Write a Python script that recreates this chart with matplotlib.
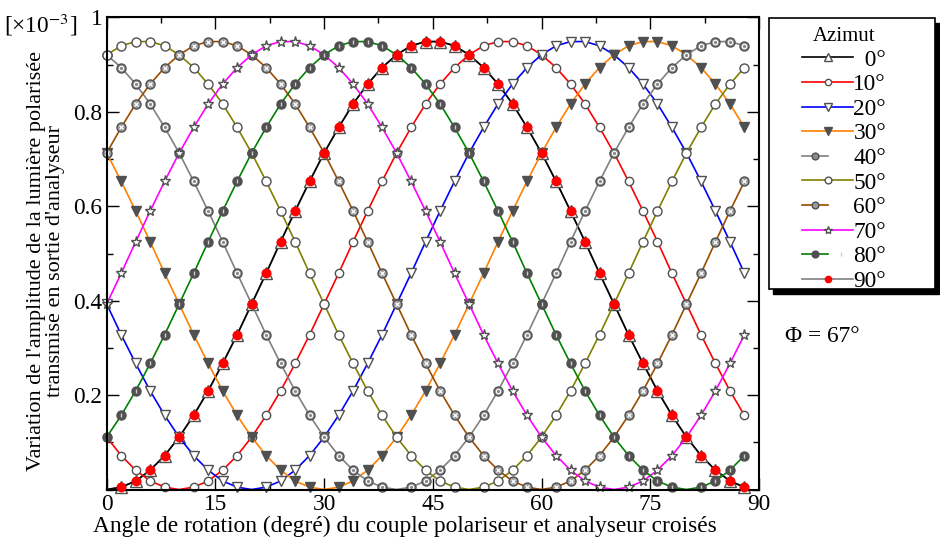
import numpy as np
import matplotlib.pyplot as plt
from matplotlib.patches import Rectangle
from matplotlib.legend_handler import HandlerTuple
from matplotlib.ticker import MultipleLocator, FormatStrFormatter

plt.rcParams['font.family'] = ['Liberation Serif', 'DejaVu Serif']
plt.rcParams['mathtext.fontset'] = 'stix'

# angle de rotation (degré), un point tous les 2°
angles = np.arange(0, 90, 2)

azimut_labels = ['  0°', '10°', '20°', '30°', '40°', '50°', '60°', '70°', '80°', '90°']

# amplitudes [x10^-3]
amp_00 = [0.000, 0.005, 0.018, 0.041, 0.072, 0.111, 0.157, 0.209, 0.267,
          0.328, 0.393, 0.458, 0.525, 0.590, 0.653, 0.713, 0.767, 0.817,
          0.859, 0.894, 0.921, 0.940, 0.949, 0.949, 0.940, 0.921, 0.894,
          0.859, 0.817, 0.767, 0.713, 0.653, 0.590, 0.525, 0.458, 0.393,
          0.328, 0.267, 0.209, 0.157, 0.111, 0.072, 0.041, 0.018, 0.005]
amp_10 = [0.111, 0.072, 0.041, 0.018, 0.005, 0.000, 0.005, 0.018, 0.041,
          0.072, 0.111, 0.157, 0.209, 0.267, 0.328, 0.393, 0.458, 0.525,
          0.590, 0.653, 0.713, 0.767, 0.817, 0.859, 0.894, 0.921, 0.940,
          0.949, 0.949, 0.940, 0.921, 0.894, 0.859, 0.817, 0.767, 0.713,
          0.653, 0.590, 0.525, 0.458, 0.393, 0.328, 0.267, 0.209, 0.157]
amp_20 = [0.393, 0.328, 0.267, 0.209, 0.157, 0.111, 0.072, 0.041, 0.018,
          0.005, 0.000, 0.005, 0.018, 0.041, 0.072, 0.111, 0.157, 0.209,
          0.267, 0.328, 0.393, 0.458, 0.525, 0.590, 0.653, 0.713, 0.767,
          0.817, 0.859, 0.894, 0.921, 0.940, 0.949, 0.949, 0.940, 0.921,
          0.894, 0.859, 0.817, 0.767, 0.713, 0.653, 0.590, 0.525, 0.458]
amp_30 = [0.713, 0.653, 0.590, 0.525, 0.458, 0.393, 0.328, 0.267, 0.209,
          0.157, 0.111, 0.072, 0.041, 0.018, 0.005, 0.000, 0.005, 0.018,
          0.041, 0.072, 0.111, 0.157, 0.209, 0.267, 0.328, 0.393, 0.458,
          0.525, 0.590, 0.653, 0.713, 0.767, 0.817, 0.859, 0.894, 0.921,
          0.940, 0.949, 0.949, 0.940, 0.921, 0.894, 0.859, 0.817, 0.767]
amp_40 = [0.921, 0.894, 0.859, 0.817, 0.767, 0.713, 0.653, 0.590, 0.525,
          0.458, 0.393, 0.328, 0.267, 0.209, 0.157, 0.111, 0.072, 0.041,
          0.018, 0.005, 0.000, 0.005, 0.018, 0.041, 0.072, 0.111, 0.157,
          0.209, 0.267, 0.328, 0.393, 0.458, 0.525, 0.590, 0.653, 0.713,
          0.767, 0.817, 0.859, 0.894, 0.921, 0.940, 0.949, 0.949, 0.940]
amp_50 = [0.921, 0.940, 0.949, 0.949, 0.940, 0.921, 0.894, 0.859, 0.817,
          0.767, 0.713, 0.653, 0.590, 0.525, 0.458, 0.393, 0.328, 0.267,
          0.209, 0.157, 0.111, 0.072, 0.041, 0.018, 0.005, 0.000, 0.005,
          0.018, 0.041, 0.072, 0.111, 0.157, 0.209, 0.267, 0.328, 0.393,
          0.458, 0.525, 0.590, 0.653, 0.713, 0.767, 0.817, 0.859, 0.894]
amp_60 = [0.713, 0.767, 0.817, 0.859, 0.894, 0.921, 0.940, 0.949, 0.949,
          0.940, 0.921, 0.894, 0.859, 0.817, 0.767, 0.713, 0.653, 0.590,
          0.525, 0.458, 0.393, 0.328, 0.267, 0.209, 0.157, 0.111, 0.072,
          0.041, 0.018, 0.005, 0.000, 0.005, 0.018, 0.041, 0.072, 0.111,
          0.157, 0.209, 0.267, 0.328, 0.393, 0.458, 0.525, 0.590, 0.653]
amp_70 = [0.393, 0.458, 0.525, 0.590, 0.653, 0.713, 0.767, 0.817, 0.859,
          0.894, 0.921, 0.940, 0.949, 0.949, 0.940, 0.921, 0.894, 0.859,
          0.817, 0.767, 0.713, 0.653, 0.590, 0.525, 0.458, 0.393, 0.328,
          0.267, 0.209, 0.157, 0.111, 0.072, 0.041, 0.018, 0.005, 0.000,
          0.005, 0.018, 0.041, 0.072, 0.111, 0.157, 0.209, 0.267, 0.328]
amp_80 = [0.111, 0.157, 0.209, 0.267, 0.328, 0.393, 0.458, 0.525, 0.590,
          0.653, 0.713, 0.767, 0.817, 0.859, 0.894, 0.921, 0.940, 0.949,
          0.949, 0.940, 0.921, 0.894, 0.859, 0.817, 0.767, 0.713, 0.653,
          0.590, 0.525, 0.458, 0.393, 0.328, 0.267, 0.209, 0.157, 0.111,
          0.072, 0.041, 0.018, 0.005, 0.000, 0.005, 0.018, 0.041, 0.072]
amp_90 = [0.000, 0.005, 0.018, 0.041, 0.072, 0.111, 0.157, 0.209, 0.267,
          0.328, 0.393, 0.458, 0.525, 0.590, 0.653, 0.713, 0.767, 0.817,
          0.859, 0.894, 0.921, 0.940, 0.949, 0.949, 0.940, 0.921, 0.894,
          0.859, 0.817, 0.767, 0.713, 0.653, 0.590, 0.525, 0.458, 0.393,
          0.328, 0.267, 0.209, 0.157, 0.111, 0.072, 0.041, 0.018, 0.005]

EDGE = '#505050'
FS = 16.8

# style de chaque courbe : couleur du trait, marqueur, marqueur superposé
styles = [
    ('black', dict(marker='^', ms=8.5, mfc='white', mec=EDGE), None),
    ('red', dict(marker='o', ms=6, mfc='white', mec=EDGE), None),
    ('blue', dict(marker='v', ms=7, mfc='white', mec=EDGE), None),
    ('#ff8000', dict(marker='v', ms=7, mfc=EDGE, mec=EDGE), None),
    ('#808080', dict(marker='o', ms=6.5, mfc='#8a8a8a', mec=EDGE),
     dict(marker='o', ms=3.2, mfc='none', mec='white', mew=0.8)),
    ('#808000', dict(marker='o', ms=6.5, mfc='white', mec=EDGE), None),
    ('#994c00', dict(marker='o', ms=6.5, mfc='#9a9a9a', mec=EDGE),
     dict(marker='x', ms=3.2, mec='white', mew=0.9)),
    ('magenta', dict(marker='*', ms=8, mfc='white', mec=EDGE), None),
    ('green', dict(marker='o', ms=6.5, mfc=EDGE, mec=EDGE),
     dict(marker='|', ms=3.5, mec='#cfcfcf', mew=1.0)),
    ('#808080', dict(marker='o', ms=6, mfc='red', mec='red'), None),
]

series = [amp_00, amp_10, amp_20, amp_30, amp_40,
          amp_50, amp_60, amp_70, amp_80, amp_90]

fig = plt.figure(figsize=(9.4, 5.45), dpi=100)
ax = fig.add_axes([0.1135, 0.1018, 0.6939, 0.8661])

handles = []
for i, (vals, (color, mk, extra)) in enumerate(zip(series, styles)):
    y = np.array(vals)
    show = list(y > 0)
    if i == 9:
        # trait gris caché sous le trait noir, points rouges au-dessus
        main, = ax.plot(angles, y, color=color, lw=1.2, markevery=show,
                        mew=1.0, zorder=1.5, clip_on=False, **mk)
        ax.plot(angles, y, ls='none', markevery=show, zorder=5,
                clip_on=False, **mk)
        handles.append(main)
        continue
    main, = ax.plot(angles, y, color=color, lw=1.2, markevery=show,
                    mew=1.0, zorder=2 + i * 0.01, clip_on=False, **mk)
    if extra is not None:
        over, = ax.plot(angles, y, ls='none', markevery=show,
                        zorder=2.005 + i * 0.01, clip_on=False, **extra)
        handles.append((main, over))
    else:
        handles.append(main)

ax.set_xlim(0, 90)
ax.set_ylim(0, 1)
ax.xaxis.set_major_locator(MultipleLocator(15))
ax.xaxis.set_minor_locator(MultipleLocator(7.5))
ax.yaxis.set_minor_locator(MultipleLocator(0.1))
ax.set_yticks([0.2, 0.4, 0.6, 0.8, 1.0])
ax.xaxis.set_major_formatter(FormatStrFormatter('%g'))
ax.yaxis.set_major_formatter(FormatStrFormatter('%g'))
ax.tick_params(which='both', direction='in', top=True, right=True,
               labelsize=FS, width=1.0, pad=3)
ax.tick_params(which='major', length=8.5)
ax.tick_params(which='minor', length=4.5)
for s in ax.spines.values():
    s.set_linewidth(1.5)

ax.set_xlabel('Angle de rotation (degré) du couple polariseur et analyseur croisés',
              fontsize=FS)
ax.xaxis.set_label_coords(0.457, -0.056)
ax.set_ylabel("Variation de l'amplitude de la lumière polarisée\n"
              "transmise en sortie d'analyseur", fontsize=16.0, linespacing=0.97)
ax.yaxis.set_label_coords(-0.064, 0.485)

fig.text(4 / 940, 1 - 25 / 545, r'[×10$^{-3}$]', fontsize=FS,
         ha='left', va='center')
fig.text(785 / 940, 1 - 336 / 545, 'Φ = 67°', fontsize=FS,
         ha='left', va='center')

# cadre de la légende avec ombre
bx, by, bw, bh = 768.5 / 940, 1 - 289 / 545, 166.5 / 940, 271 / 545
fig.add_artist(Rectangle((bx + 4 / 940, by - 5 / 545), bw, bh,
                         transform=fig.transFigure, facecolor='black',
                         edgecolor='black', zorder=1))
fig.add_artist(Rectangle((bx, by), bw, bh, transform=fig.transFigure,
                         facecolor='white', edgecolor='black', lw=1.2,
                         zorder=1.1))

fig.legend(handles, azimut_labels, loc='upper left',
           bbox_to_anchor=(802 / 940, 1 - 27 / 545), frameon=False,
           title='Azimut', title_fontsize=15, fontsize=FS,
           handlelength=2.2, handletextpad=0.0, labelspacing=0.14,
           borderpad=0, borderaxespad=0, markerscale=0.75,
           handler_map={tuple: HandlerTuple(ndivide=None)})

fig.savefig('out.png', dpi=100)
